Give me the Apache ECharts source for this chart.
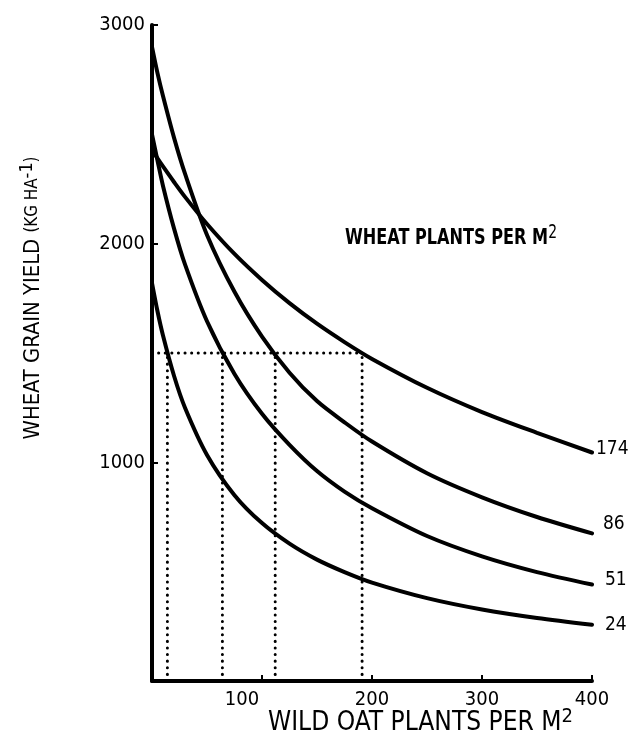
<!DOCTYPE html>
<html><head><meta charset="utf-8">
<script src="https://cdn.jsdelivr.net/npm/echarts@6/dist/echarts.min.js"></script>
<style>html,body{margin:0;padding:0;background:#fff}#c{width:629px;height:740px}</style>
</head><body><div id="c"></div>
<script>
// Wild oat density (plants per m2) sampled along each curve
const wildOat = [0, 5, 10, 20, 30, 50, 75, 100, 125, 150, 175, 200, 250, 300, 350, 400];
// Wheat grain yield (kg/ha) for each wheat density (plants per m2)
const wheat174 = [2430, 2390, 2353, 2282, 2214, 2090, 1953, 1834, 1728, 1634, 1550, 1473, 1341, 1230, 1135, 1045];
const wheat86  = [2900, 2780, 2675, 2485, 2320, 2040, 1780, 1575, 1410, 1280, 1183, 1095, 950, 840, 750, 675];
const wheat51  = [2500, 2380, 2264, 2070, 1905, 1645, 1404, 1222, 1080, 960, 866, 790, 663, 570, 498, 441];
const wheat24  = [1820, 1691, 1580, 1396, 1250, 1034, 850, 722, 628, 555, 498, 450, 379, 327, 288, 257];
const curveNames = ['174', '86', '51', '24'];
// Dotted reference: yield level 1500 and wild oat densities where each curve reaches it
const refYield = 1500;
const dropX = [14, 64, 112, 191];
const xTicks = [0, 100, 200, 300, 400];
const yTicks = [0, 1000, 2000, 3000];

const FONT = '"DejaVu Sans Condensed", "Liberation Sans Narrow", sans-serif';

function fitScale(parts, target) {
  const ctx = document.createElement('canvas').getContext('2d');
  let w = 0;
  parts.forEach(p => { ctx.font = (p[2] || 'normal') + ' ' + p[1] + 'px ' + FONT; w += ctx.measureText(p[0]).width; });
  return w > 0 ? target / w : 1;
}

const curves = [wheat174, wheat86, wheat51, wheat24];
const labelOffsets = [[-4, -3], [3, -9], [5, -5], [5, 0]];

const series = curves.map((vals, i) => ({
  type: 'line',
  name: curveNames[i],
  data: wildOat.map((x, j) => [x, vals[j]]),
  smooth: 0.3,
  showSymbol: false,
  lineStyle: { color: '#000', width: 4, cap: 'round' },
  endLabel: {
    show: true, formatter: '{a}', color: '#000', fontFamily: FONT, fontSize: 19,
    offset: labelOffsets[i]
  },
  z: 3
}));

const dotStyle = { color: '#000', width: 3, type: [0.1, 6.5], cap: 'round' };
series.push({
  type: 'line', data: [[0, refYield], [Math.max(...dropX), refYield]],
  showSymbol: false, lineStyle: dotStyle, z: 2, silent: true
});
dropX.forEach(x => series.push({
  type: 'line', data: [[x, 0], [x, refYield]],
  showSymbol: false, lineStyle: dotStyle, z: 2, silent: true
}));

const xTitleScale = fitScale([['WILD OAT PLANTS PER M', 26], ['2', 20]], 305);
const legTitleScale = fitScale([['WHEAT PLANTS PER M', 22, 'bold'], ['2', 19]], 212);
const yTitleScale = fitScale([['WHEAT GRAIN YIELD ', 22], ['(KG HA', 17], ['-1', 18], [')', 17]], 283);

const chart = echarts.init(document.getElementById('c'), null, { renderer: 'canvas' });
chart.setOption({
  animation: false,
  backgroundColor: '#fff',
  grid: { left: 152, right: 37, top: 25, bottom: 59, containLabel: false },
  xAxis: {
    type: 'value', min: xTicks[0], max: xTicks[xTicks.length - 1], interval: 100,
    axisLine: { lineStyle: { color: '#000', width: 4 } },
    axisTick: { inside: true, length: 6, lineStyle: { color: '#000', width: 2 } },
    splitLine: { show: false },
    axisLabel: {
      showMinLabel: false, margin: 9, color: '#000', fontFamily: FONT, fontSize: 20,
      formatter: v => v === 100 ? '{l|100}' : String(v),
      rich: { l: { fontFamily: FONT, fontSize: 20, color: '#000', padding: [0, 40, 0, 0] } }
    }
  },
  yAxis: {
    type: 'value', min: yTicks[0], max: yTicks[yTicks.length - 1], interval: 1000,
    axisLine: { lineStyle: { color: '#000', width: 4 } },
    axisTick: { inside: true, length: 6, lineStyle: { color: '#000', width: 2 } },
    splitLine: { show: false },
    axisLabel: {
      showMinLabel: false, margin: 7, color: '#000', fontFamily: FONT, fontSize: 20,
      formatter: v => String(v)
    }
  },
  graphic: [
    {
      type: 'text', x: 268, y: 707, scaleX: xTitleScale,
      style: {
        text: '{a|WILD OAT PLANTS PER M}{s|2}',
        rich: {
          a: { fontFamily: FONT, fontSize: 26, fill: '#000' },
          s: { fontFamily: FONT, fontSize: 20, fill: '#000', padding: [0, 0, 12, 0] }
        }
      }
    },
    {
      type: 'text', x: 345, y: 224, scaleX: legTitleScale,
      style: {
        text: '{a|WHEAT PLANTS PER M}{s|2}',
        rich: {
          a: { fontFamily: FONT, fontSize: 22, fontWeight: 'bold', fill: '#000' },
          s: { fontFamily: FONT, fontSize: 19, fill: '#000', padding: [0, 0, 10, 0] }
        }
      }
    },
    {
      type: 'text', x: 33, y: 298, rotation: Math.PI / 2, scaleX: yTitleScale,
      style: {
        text: '{a|WHEAT GRAIN YIELD }{b|(KG HA}{s|-1}{b|)}',
        align: 'center', verticalAlign: 'middle',
        rich: {
          a: { fontFamily: FONT, fontSize: 22, fill: '#000' },
          b: { fontFamily: FONT, fontSize: 17, fill: '#000' },
          s: { fontFamily: FONT, fontSize: 18, fill: '#000', padding: [0, 0, 12, 0] }
        }
      }
    }
  ],
  series: series
});
</script>
</body></html>
